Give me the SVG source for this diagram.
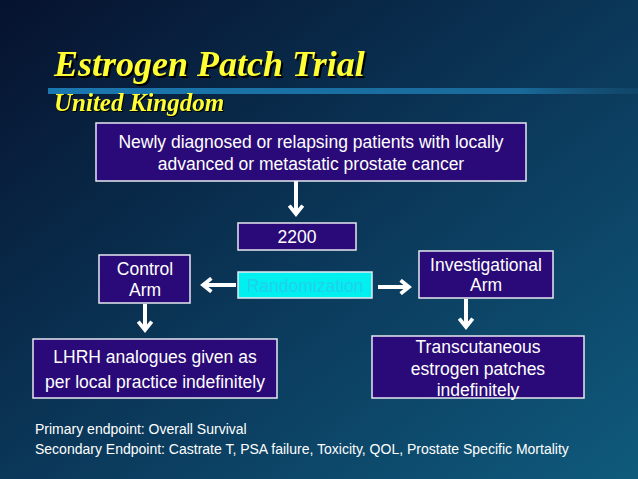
<svg xmlns="http://www.w3.org/2000/svg" width="638" height="479" viewBox="0 0 638 479">
<defs>
<linearGradient id="bg" x1="0" y1="0" x2="1" y2="1"><stop offset="0" stop-color="#06122e"/><stop offset="0.55" stop-color="#0b3a5c"/><stop offset="1" stop-color="#0f5a7c"/></linearGradient>
<linearGradient id="bar" x1="0" x2="1"><stop offset="0" stop-color="#1a78b0"/><stop offset="0.8" stop-color="#1a6a9a"/><stop offset="1" stop-color="#1a5a80" stop-opacity="0.3"/></linearGradient>
<marker id="ah" viewBox="0 0 10 10" refX="6" refY="5" markerWidth="4.2" markerHeight="4.2" orient="auto"><path d="M1,1 L6,5 L1,9" fill="none" stroke="#fff" stroke-width="2.2"/></marker>
</defs>
<style>
.box{fill:#2a0a78;stroke:#e8e8f0;stroke-width:1.5}
.t{font-family:"Liberation Sans",Arial,sans-serif;font-size:17.5px;fill:#fff;text-anchor:middle}
.c{stroke:#fff;stroke-width:4;fill:none;marker-end:url(#ah)}
.h{font-family:"Liberation Serif","Times New Roman",serif;font-weight:bold;font-style:italic;fill:#ffff33}
.f{font-family:"Liberation Sans",Arial,sans-serif;font-size:14px;fill:#fff}
</style>
<rect width="638" height="479" fill="url(#bg)"/>
<rect x="48" y="88" width="590" height="6" fill="url(#bar)"/>
<text class="h" x="54" y="76" font-size="36" style="filter:drop-shadow(2px 2px 0 #000)">Estrogen Patch Trial</text>
<text class="h" x="54" y="111" font-size="25" style="filter:drop-shadow(1px 1px 0 #000)">United Kingdom</text>
<g id="connectors">
<path class="c" d="M296 181 V214"/>
<path class="c" d="M236 285 H203"/>
<path class="c" d="M378 287 H409"/>
<path class="c" d="M145 304 V330"/>
<path class="c" d="M466 299 V327"/>
</g>
<g id="top"><rect class="box" x="96" y="123" width="430" height="58"/><text class="t" x="311" y="148">Newly diagnosed or relapsing patients with locally</text><text class="t" x="311" y="170">advanced or metastatic prostate cancer</text></g>
<g id="n2200"><rect class="box" x="238" y="223" width="118" height="27"/><text class="t" x="297" y="243">2200</text></g>
<g id="rand"><rect x="238" y="272" width="134" height="26" fill="#00f0f0" stroke="#e8e8f0" stroke-width="1.5"/><text class="t" x="305" y="292" style="fill:#20d0ee">Randomization</text></g>
<g id="control"><rect class="box" x="99" y="255" width="91" height="48"/><text class="t" x="145" y="275">Control</text><text class="t" x="145" y="296">Arm</text></g>
<g id="invest"><rect class="box" x="419" y="251" width="134" height="47"/><text class="t" x="486" y="271">Investigational</text><text class="t" x="486" y="291">Arm</text></g>
<g id="lhrh"><rect class="box" x="33" y="339" width="244" height="59"/><text class="t" x="155" y="363">LHRH analogues given as</text><text class="t" x="155" y="388">per local practice indefinitely</text></g>
<g id="trans"><rect class="box" x="372" y="336" width="212" height="62"/><text class="t" x="478" y="353">Transcutaneous</text><text class="t" x="478" y="375">estrogen patches</text><text class="t" x="478" y="396">indefinitely</text></g>
<text class="f" x="35" y="434">Primary endpoint: Overall Survival</text>
<text class="f" x="35" y="454">Secondary Endpoint: Castrate T, PSA failure, Toxicity, QOL, Prostate Specific Mortality</text>
</svg>
